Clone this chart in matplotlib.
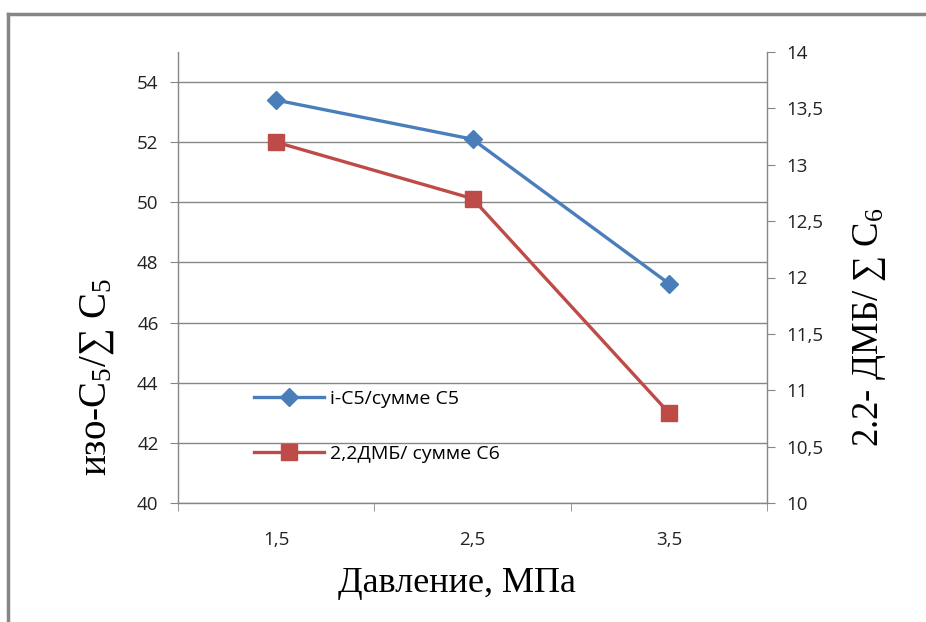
import matplotlib.pyplot as plt
from matplotlib.lines import Line2D

# data
pressure = ['1,5', '2,5', '3,5']
iso_c5 = [53.4, 52.1, 47.3]
dmb_c6 = [13.2, 12.7, 10.8]

left_ticks = [40, 42, 44, 46, 48, 50, 52, 54]
right_ticks = [10, 10.5, 11, 11.5, 12, 12.5, 13, 13.5, 14]

blue = '#4A7EBB'
red = '#BE4B48'
grey = '#868686'

plt.rcParams['mathtext.fontset'] = 'custom'
plt.rcParams['mathtext.rm'] = 'Liberation Serif'
plt.rcParams['mathtext.it'] = 'Liberation Serif'

W, H = 926, 622
fig = plt.figure(figsize=(W / 100, H / 100), dpi=100)
ax = fig.add_axes([178 / W, 1 - 503 / H, (767 - 178) / W, (503 - 52) / H])
ax2 = ax.twinx()

xs = range(1, len(pressure) + 1)

ax.plot(xs, iso_c5, color=blue, lw=2.4, marker='D', ms=9, zorder=5)
ax2.plot(xs, dmb_c6, color=red, lw=2.4, marker='s', ms=12, zorder=5)

ax.set_xlim(0.5, 3.5)
ax.set_ylim(40, 55)
ax2.set_ylim(10, 14)
ax.set_yticks(left_ticks)
ax2.set_yticks(right_ticks)
ax.set_xticks(list(xs))
ax.set_xticklabels(pressure)
ax.set_xticks([0.5, 1.5, 2.5, 3.5], minor=True)

tick_font = dict(family='Open Sans', size=13.5)
ax.set_yticklabels([str(t) for t in left_ticks], **tick_font)
ax2.set_yticklabels([('%g' % t).replace('.', ',') for t in right_ticks], **tick_font)
for lbl in ax.get_xticklabels():
    lbl.set_fontfamily('Open Sans')
    lbl.set_fontsize(13.5)

ax.grid(axis='y', color=grey, lw=1)
ax.set_axisbelow(True)

for a in (ax, ax2):
    a.spines['top'].set_visible(False)
    for s in ('left', 'right', 'bottom'):
        a.spines[s].set_color(grey)
        a.spines[s].set_linewidth(1)
ax.spines['right'].set_visible(False)
ax2.spines['left'].set_visible(False)
ax2.spines['bottom'].set_visible(False)

ax.tick_params(axis='x', which='major', length=0, pad=20, colors='#222222')
ax.tick_params(axis='x', which='minor', length=6, color=grey, direction='out')
ax.tick_params(axis='y', length=6, color=grey, pad=8, colors='#222222')
ax2.tick_params(axis='y', length=6, color=grey, pad=8, colors='#222222')
ax.tick_params(axis='y', color=grey)
ax2.tick_params(axis='y', color=grey)

# axis titles placed where they sit in the reference
fig.text(457 / W, 1 - 584 / H, 'Давление, МПа', family='Liberation Serif', size=26,
         ha='center', va='center')
fig.text(97 / W, 1 - 377 / H, 'изо-C$_5$/∑ C$_5$', family='Liberation Serif', size=28,
         rotation=90, ha='center', va='center')
fig.text(870 / W, 1 - 327 / H, '2.2- ДМБ/ ∑ C$_6$', family='Liberation Serif', size=26.5,
         rotation=90, ha='center', va='center')

handles = [
    Line2D([], [], color=blue, lw=2.4, marker='D', ms=9),
    Line2D([], [], color=red, lw=2.4, marker='s', ms=12),
]
ax.legend(handles, ['i-C5/сумме C5', '2,2ДМБ/ сумме C6'], loc='upper left',
          bbox_to_anchor=(0.1, 0.29), frameon=False, handlelength=3.6,
          handletextpad=0.3, labelspacing=1.9,
          prop=dict(family='Open Sans', size=14))

# outer frame (left and top edges only visible)
fig.add_artist(Line2D([8 / W, 8 / W], [0, 1 - 14 / H], color=grey, lw=2.5))
fig.add_artist(Line2D([8 / W, 1], [1 - 14 / H, 1 - 14 / H], color=grey, lw=2.5))

fig.savefig('out.png', dpi=100)
